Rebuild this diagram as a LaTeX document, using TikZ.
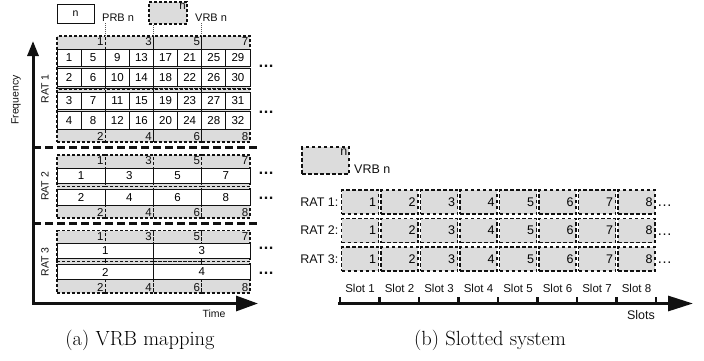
\documentclass[tikz,border=0pt]{standalone}
\usepackage{fontspec}
\setsansfont{Liberation Sans}
\renewcommand{\familydefault}{\sfdefault}
\usetikzlibrary{arrows.meta}
\definecolor{cText}{HTML}{111111}
\definecolor{cVrb}{HTML}{DCDCDC}
\tikzset{
  prb/.style={draw=cText, line width=0.9pt, fill=white, inner sep=0pt, outer sep=0pt,
              anchor=north west, font=\sffamily\fontsize{11.5}{13}\selectfont},
  vrb/.style={draw=cText, line width=1.2pt, dash pattern=on 3pt off 2pt, fill=cVrb,
              inner sep=0pt, outer sep=0pt, anchor=north west},
  slotvrb/.style={vrb, line width=1.5pt, dash pattern=on 3.5pt off 2.5pt,
              minimum width=37pt, minimum height=24pt, text width=32pt, inner sep=2.5pt,
              align=right, font=\sffamily\fontsize{12.5}{14}\selectfont},
  num/.style={font=\sffamily\fontsize{11.5}{13}\selectfont, text=cText, inner sep=1.5pt},
  lbl/.style={font=\sffamily\fontsize{10.5}{12}\selectfont, text=cText, inner sep=1pt},
  bigl/.style={font=\sffamily\fontsize{12.5}{14}\selectfont, text=cText, inner sep=1pt},
  dotsl/.style={font=\sffamily\fontsize{16}{18}\selectfont\bfseries, text=cText, inner sep=0pt, anchor=base west},
  dotsr/.style={font=\sffamily\fontsize{15}{18}\selectfont, text=cText, inner sep=0pt, anchor=base west},
  ratsep/.style={line width=2.6pt, dash pattern=on 8pt off 4pt, cText},
  lead/.style={line width=0.9pt, dash pattern=on 1pt off 1pt, cText!70},
  capt/.style={font=\rmfamily\fontsize{20.5}{24}\selectfont, text=black}
}

\begin{document}
\begin{tikzpicture}[x=1pt, y=-1pt, font=\sffamily]
\useasboundingbox (0,0) rectangle (704,360);
% ---------- (a) VRB mapping ----------
% legend
\node[prb, minimum width=37pt, minimum height=19pt, font=\sffamily\fontsize{10.5}{12}\selectfont] (prbkey) at (57,4) {n};
\node[lbl, anchor=west, font=\sffamily\fontsize{11}{13}\selectfont] (prblbl) at (101,18) {PRB n};
\node[vrb, minimum width=38pt, minimum height=22pt] (vrbkey) at (149,2) {};
\node[num, anchor=north east, inner sep=1pt] (vrbkeyn) at (vrbkey.north east) {n};
\node[lbl, anchor=west, font=\sffamily\fontsize{11}{13}\selectfont] (vrblbl) at (194,18) {VRB n};
% RAT 1: VRB pairs, PRBs of one column
\foreach \c in {1,...,4} {
  \pgfmathtruncatemacro\vo{2*\c-1}
  \pgfmathtruncatemacro\ve{2*\c}
  \node[vrb, minimum width=48.25pt, minimum height=53pt] (ra-\c-o) at ({57+(\c-1)*48.25},36) {};
  \node[vrb, minimum width=48.25pt, minimum height=53pt] (ra-\c-e) at ({57+(\c-1)*48.25},89) {};
  \node[num, anchor=north east] (ra-\c-on) at (ra-\c-o.north east) {\vo};
  \node[num, anchor=south east] (ra-\c-en) at (ra-\c-e.south east) {\ve};
}
\foreach \r/\yt in {1/49,2/68.5,3/92,4/111.5}
  \foreach \c in {1,...,8} {
    \pgfmathtruncatemacro\n{4*(\c-1)+\r}
    \node[prb, minimum width=24.125pt, minimum height=17.5pt] (pa-\r-\c) at ({57+(\c-1)*24.125},\yt) {\n};
  }
% RAT 2: PRB of two columns
\foreach \c in {1,...,4} {
  \pgfmathtruncatemacro\vo{2*\c-1}
  \pgfmathtruncatemacro\ve{2*\c}
  \node[vrb, minimum width=48.25pt, minimum height=31.5pt] (rb-\c-o) at ({57+(\c-1)*48.25},155) {};
  \node[vrb, minimum width=48.25pt, minimum height=31.5pt] (rb-\c-e) at ({57+(\c-1)*48.25},186.5) {};
  \node[num, anchor=north east] (rb-\c-on) at (rb-\c-o.north east) {\vo};
  \node[num, anchor=south east] (rb-\c-en) at (rb-\c-e.south east) {\ve};
}
\foreach \r/\yt in {1/168,2/189.5}
  \foreach \c in {1,...,4} {
    \pgfmathtruncatemacro\n{2*(\c-1)+\r}
    \node[prb, minimum width=48.25pt, minimum height=15.5pt] (pb-\r-\c) at ({57+(\c-1)*48.25},\yt) {\n};
  }
% RAT 3: PRB of four columns
\foreach \c in {1,...,4} {
  \pgfmathtruncatemacro\vo{2*\c-1}
  \pgfmathtruncatemacro\ve{2*\c}
  \node[vrb, minimum width=48.25pt, minimum height=31.25pt] (rc-\c-o) at ({57+(\c-1)*48.25},230.5) {};
  \node[vrb, minimum width=48.25pt, minimum height=31.25pt] (rc-\c-e) at ({57+(\c-1)*48.25},261.75) {};
  \node[num, anchor=north east] (rc-\c-on) at (rc-\c-o.north east) {\vo};
  \node[num, anchor=south east] (rc-\c-en) at (rc-\c-e.south east) {\ve};
}
\foreach \r/\yt in {1/243.5,2/264.5}
  \foreach \c in {1,2} {
    \pgfmathtruncatemacro\n{2*(\c-1)+\r}
    \node[prb, minimum width=96.5pt, minimum height=15pt] (pc-\r-\c) at ({57+(\c-1)*96.5},\yt) {\n};
  }
% leaders to the legend
\draw[lead] (ra-1-o.north east) -- (ra-1-o.north east |- prblbl.south);
\draw[lead] (ra-2-o.north east) -- (ra-2-o.north east |- vrbkey.south);
\draw[lead] (ra-3-o.north east) -- (ra-3-o.north east |- vrblbl.south);
% continuation dots
\foreach \y [count=\i] in {67.5,113,174.5,199.5,249.5,274.5}
  \node[dotsl] (dl-\i) at (258,\y) {\ldots};
% separators between RATs
\draw[ratsep] (33,147.5) -- (257,147.5);
\draw[ratsep] (33,223.5) -- (257,223.5);
% axes
\coordinate (orgA) at (33,303.5);
\coordinate (freqtip) at (33,41);
\coordinate (timetip) at (258,303.5);
\draw[line width=3pt, cText, {Triangle[length=15pt,width=11pt]}-{Triangle[length=22pt,width=15pt]}]
  (freqtip) -- (orgA) -- (timetip);
\node[lbl, rotate=90] (freq) at (16,100) {Frequency};
\node[lbl] (time) at (214,313.5) {Time};
\node[lbl, rotate=90] (rl-1) at (45,89) {RAT 1};
\node[lbl, rotate=90] (rl-2) at (45,186.5) {RAT 2};
\node[lbl, rotate=90] (rl-3) at (45,262) {RAT 3};
\node[capt] (capa) at (140,340) {(a) VRB mapping};
% ---------- (b) Slotted system ----------
\node[vrb, line width=1.5pt, dash pattern=on 3.5pt off 2.5pt, minimum width=47pt, minimum height=27pt] (vrbkeyb) at (302,147) {};
\node[bigl, anchor=north east, inner sep=1.5pt] (vrbkeybn) at (vrbkeyb.north east) {n};
\node[bigl, anchor=west] (vrblblb) at (353,169) {VRB n};
\foreach \r/\yt in {1/190,2/218.5,3/247} {
  \node[bigl, anchor=east] (sr-\r) at (339.5,{\yt+12}) {RAT \r:};
  \foreach \c in {1,...,8}
    \node[slotvrb] (s-\r-\c) at ({341.5+(\c-1)*39.5},\yt) {\c};
  \node[dotsr] (sd-\r) at (657,{\yt+16.5}) {\ldots};
}
\foreach \c in {1,...,8}
  \node[bigl, font=\sffamily\fontsize{11.5}{13}\selectfont] (sl-\c) at ({360+(\c-1)*39.5},288) {Slot \c};
\coordinate (orgB) at (338,303.5);
\coordinate (slottip) at (693,303.5);
\draw[line width=3pt, cText, -{Triangle[length=25pt,width=15pt]}] (orgB) -- (slottip);
\foreach \k in {0,...,8}
  \draw[line width=2.5pt, cText] ({340+\k*39.5},297) -- ({340+\k*39.5},303.5);
\node[bigl] (slots) at (641,315) {Slots};
\node[capt] (capb) at (490,340) {(b) Slotted system};
\end{tikzpicture}
\end{document}
